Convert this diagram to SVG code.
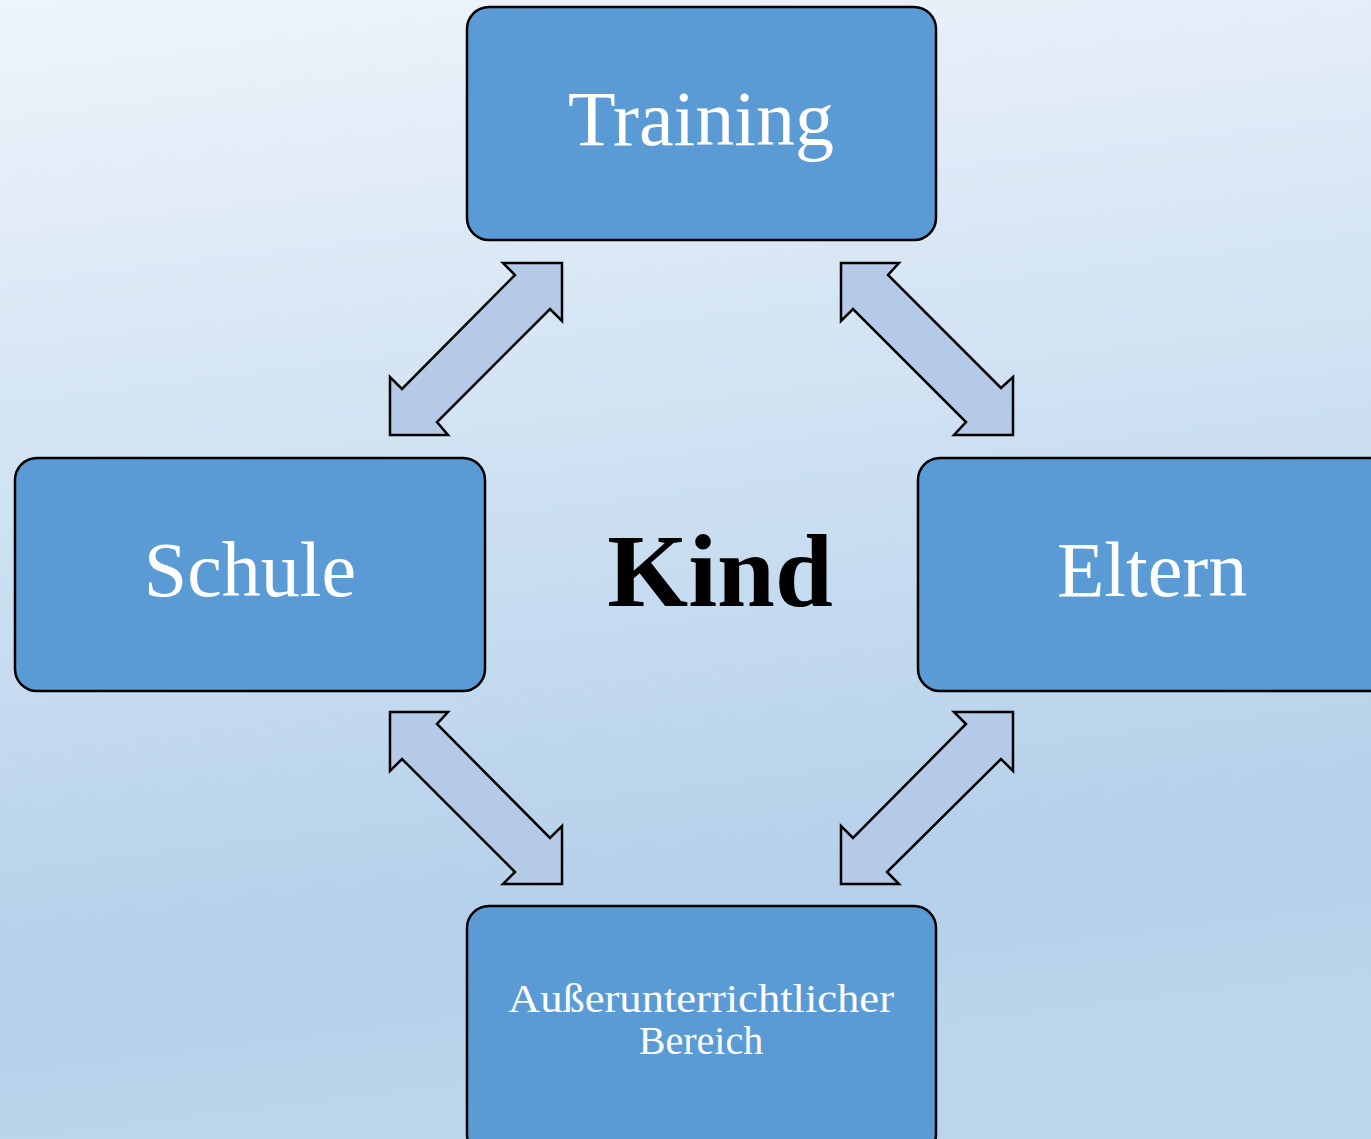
<svg xmlns="http://www.w3.org/2000/svg" width="1371" height="1139" viewBox="0 0 1371 1139">
<defs>
<linearGradient id="bg" x1="0" y1="0" x2="0.15" y2="1">
<stop offset="0" stop-color="#EEF4FB"/>
<stop offset="0.5" stop-color="#CCDFF1"/>
<stop offset="0.85" stop-color="#B4D0EA"/>
<stop offset="1" stop-color="#BCD5EC"/>
</linearGradient>
<style>
.box{fill:#5B9BD5;stroke:#000;stroke-width:2.5}
.lbl{font-family:"Liberation Serif",serif;fill:#fff;text-anchor:middle}
.arr{fill:#B5CAE7;stroke:#000;stroke-width:2.5;stroke-linejoin:miter}
</style>
</defs>
<rect x="0" y="0" width="1371" height="1139" fill="url(#bg)"/>
<g id="connectors">
<polygon class="arr" points="503,263 562,263 562,321 550,309 437,422 448,435 390,435 390,377 402,389 515,275"/>
<polygon class="arr" points="841,263 899,263 888,275 1001,388 1013,377 1013,435 954,435 966,422 853,309 841,321"/>
<polygon class="arr" points="390,712 448,712 437,724 550,838 562,826 562,884 503,884 515,872 402,759 390,771"/>
<polygon class="arr" points="1013,712 954,712 966,724 853,838 841,826 841,884 899,884 887,872 1001,759 1013,771"/>
</g>
<g id="training">
<rect class="box" x="467" y="7" width="469" height="233" rx="22"/>
<text class="lbl" x="701" y="145" font-size="78">Training</text>
</g>
<g id="schule">
<rect class="box" x="15" y="458" width="470" height="233" rx="22"/>
<text class="lbl" x="250" y="596" font-size="78">Schule</text>
</g>
<g id="eltern">
<rect class="box" x="918" y="458" width="480" height="233" rx="22"/>
<text class="lbl" x="1152" y="596" font-size="78">Eltern</text>
</g>
<g id="ausserunterricht">
<rect class="box" x="467" y="906" width="469" height="250" rx="22"/>
<text class="lbl" x="701" y="1012" font-size="40" textLength="386" lengthAdjust="spacingAndGlyphs">Außerunterrichtlicher</text>
<text class="lbl" x="701" y="1054" font-size="40">Bereich</text>
</g>
<g id="kind">
<text x="720" y="606" font-family="'Liberation Serif',serif" font-weight="bold" font-size="104" text-anchor="middle" fill="#000">Kind</text>
</g>
</svg>
